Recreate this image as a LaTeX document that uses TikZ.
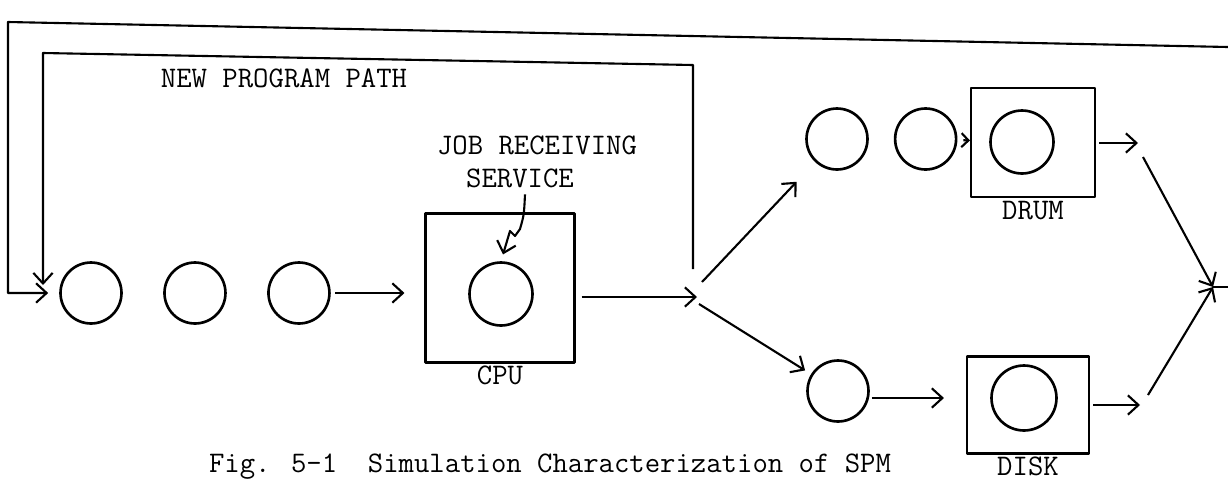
\documentclass[tikz,border=0pt]{standalone}
\usetikzlibrary{positioning,arrows.meta}

\begin{document}
\begin{tikzpicture}[x=0.02cm, y=-0.02cm, node distance=2.08cm,
                    line width=1.2pt, line join=round,
                    every node/.style={font=\fontsize{17}{20}\selectfont\ttfamily},
                    queue/.style={circle,draw,line width=1.5pt,minimum size=1.22cm,inner sep=0pt},
                    server/.style={draw,inner sep=0pt},
                    lbl/.style={inner sep=0.5pt},
                    flow/.style={-{Straight Barb[length=6pt,width=11pt]}}]

\useasboundingbox (0,0) rectangle (1228,481);

% input queue and CPU
\node[queue] (Q1) at (91,293) {};
\node[queue] (Q2) [right of=Q1] {};
\node[queue] (Q3) [right of=Q2] {};
\node[server, minimum width=2.98cm, minimum height=2.98cm] (CPU) at (500,288) {};
\node[queue, minimum size=1.26cm] (CPUQ) at (501,294) {};
\node[lbl] (CPUL) [below=0pt of CPU] {CPU};
\node (JOB) at (537,145) {JOB RECEIVING};
\node (SERV) at (520,178) {SERVICE};
\node (NPP) at (284,78) {NEW PROGRAM PATH};

% drum branch
\node[queue] (D1) at (837,139) {};
\node[queue] (D2) [right=0.5cm of D1] {};
\node[server, minimum width=2.48cm, minimum height=2.18cm] (DRUM) at (1033,142.5) {};
\node[queue, minimum size=1.26cm] (DRUMQ) at (1022,142) {};
\node[lbl] (DRUML) [below=1pt of DRUM] {DRUM};

% disk branch
\node[queue] (K1) at (838,391) {};
\node[server, minimum width=2.44cm, minimum height=1.94cm] (DISK) at (1028,405) {};
\node[queue, minimum size=1.3cm] (DISKQ) at (1024,398) {};
\node[lbl] (DISKL) [below=0.5pt of DISK] {DISK};

\node (CAP) [anchor=base] at (550,472) {Fig. 5-1\ \ Simulation Characterization of SPM};

\coordinate (J) at (697,297);
\coordinate (DOUT) at (1138,143);
\coordinate (KOUT) at (1140,405);
\coordinate (RJ) at (1213,287);
\coordinate (OUTR) at (1228,47);
\coordinate (OUTL) at (8,22);
\coordinate (INB) at (693,269);
\coordinate (INR) at (693,65);
\coordinate (INL) at (43,53);

 \path[flow]
    (Q3) edge[shorten <=0.09cm, shorten >=0.4cm] (Q3 -| CPU.west)
    (CPU.east |- J) edge[shorten <=0.12cm] (J)
    ([shift={(5,-15)}]J) edge[shorten >=0.54cm] (D1)
    ([shift={(2,7)}]J) edge[shorten >=0.14cm] (K1)
    (D2) edge[-{Straight Barb[length=4pt,width=8pt]}, shorten <=0.12cm] (DRUM)
    (K1.east |- DISKQ) edge[shorten <=0.04cm, shorten >=0.44cm] (DISK.west |- DISKQ)
    (DRUM.east |- DOUT) edge[shorten <=0.06cm] (DOUT)
    (DISK.east |- KOUT) edge[shorten <=0.06cm] (KOUT)
    ([shift={(5,14)}]DOUT) edge (RJ)
    ([shift={(8,-10)}]KOUT) edge (RJ);

% job receiving pointer
\draw[flow, shorten >=0.14cm] ([xshift=0.1cm]SERV.south) .. controls (524,215) .. (520,229)
    -- (515,236) -- (510,231) -- (CPUQ.north);

% feedback paths
\draw (RJ) -- (RJ -| OUTR);
\draw[flow, shorten >=0.22cm] (OUTR) -- (OUTL) |- (Q1);
\draw[flow, shorten >=0.16cm] (INB) -- (INR) -- (INL) -- (INL |- Q1);
\end{tikzpicture}
\end{document}
